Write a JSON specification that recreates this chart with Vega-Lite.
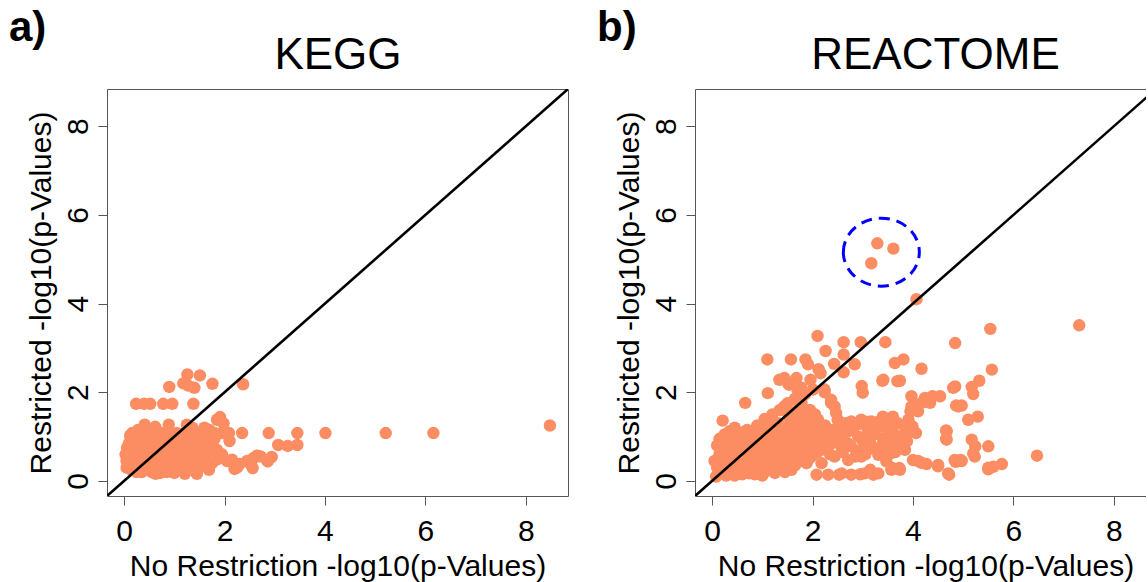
{
"$schema": "https://vega.github.io/schema/vega-lite/v6.json",
"padding": {"left": 8, "top": 6, "right": 0, "bottom": 0},
"background": "white",
"config": {
  "font": "Liberation Sans",
  "axis": {"labelFont": "Liberation Sans", "titleFont": "Liberation Sans", "labelFontSize": 30, "titleFontSize": 30, "labelColor": "#000", "titleColor": "#000", "titleFontWeight": "normal", "tickColor": "#555", "domainColor": "#555", "tickSize": 9, "tickWidth": 1, "grid": false, "labelFlush": false, "labelOverlap": false}
},
"datasets": {
  "diag": [{"x": -0.34, "y": -0.34}, {"x": 8.84, "y": 8.84}],
  "circ": [{"x": 3.37, "y": 5.16}],
  "kegg": [
{"x":1.26,"y":2.40},{"x":1.51,"y":2.38},{"x":0.90,"y":2.12},{"x":1.18,"y":2.20},{"x":1.40,"y":2.10},{"x":1.76,"y":2.19},{"x":2.37,"y":2.18},{"x":1.28,"y":2.15},
{"x":0.24,"y":1.74},{"x":0.40,"y":1.74},{"x":0.52,"y":1.74},{"x":0.78,"y":1.74},{"x":0.96,"y":1.74},{"x":1.38,"y":1.74},
{"x":1.91,"y":1.44},{"x":1.98,"y":1.30},{"x":1.85,"y":1.38},
{"x":0.41,"y":1.27},{"x":0.89,"y":1.27},{"x":1.25,"y":1.27},{"x":1.36,"y":1.20},{"x":0.62,"y":1.22},{"x":1.60,"y":1.20},{"x":1.70,"y":1.15},
{"x":0.16,"y":1.08},{"x":0.30,"y":1.08},{"x":0.45,"y":1.08},{"x":0.60,"y":1.08},{"x":0.75,"y":1.08},{"x":0.90,"y":1.08},{"x":1.05,"y":1.08},{"x":1.20,"y":1.08},{"x":1.35,"y":1.08},{"x":1.50,"y":1.08},{"x":1.65,"y":1.08},{"x":1.80,"y":1.08},{"x":1.95,"y":1.08},{"x":2.09,"y":1.08},{"x":2.35,"y":1.08},{"x":2.88,"y":1.08},{"x":3.45,"y":1.08},{"x":4.01,"y":1.08},{"x":5.21,"y":1.08},{"x":6.16,"y":1.08},
{"x":8.48,"y":1.25},
{"x":3.07,"y":0.81},{"x":3.26,"y":0.79},{"x":3.45,"y":0.81},{"x":2.94,"y":0.54},{"x":2.86,"y":0.44},{"x":2.72,"y":0.55},{"x":2.58,"y":0.52},{"x":2.65,"y":0.57},{"x":2.56,"y":0.29},{"x":2.20,"y":0.27},{"x":2.15,"y":0.48},{"x":1.87,"y":0.49},{"x":1.69,"y":0.25},{"x":1.45,"y":0.16},{"x":1.21,"y":0.16},{"x":0.63,"y":0.16},{"x":2.30,"y":0.38},{"x":2.25,"y":0.30},{"x":2.45,"y":0.45},{"x":2.52,"y":0.38},
{"x":1.32,"y":0.81},{"x":1.51,"y":0.86},{"x":1.58,"y":0.66},{"x":1.73,"y":0.74},{"x":1.83,"y":0.66},
{"x":0.05,"y":0.30},{"x":0.05,"y":0.45},{"x":0.08,"y":0.38},{"x":0.10,"y":0.55},{"x":0.12,"y":0.70},{"x":0.10,"y":0.85},{"x":0.15,"y":0.95},{"x":0.18,"y":0.40},{"x":0.20,"y":0.60},{"x":0.22,"y":0.78},{"x":0.25,"y":0.30},{"x":0.28,"y":0.50},{"x":0.30,"y":0.90},{"x":0.32,"y":0.68},{"x":0.35,"y":0.35},{"x":0.38,"y":0.55},{"x":0.40,"y":0.80},{"x":0.42,"y":0.25},{"x":0.45,"y":0.45},{"x":0.48,"y":0.65},{"x":0.50,"y":0.95},{"x":0.52,"y":0.32},{"x":0.55,"y":0.55},{"x":0.58,"y":0.75},{"x":0.60,"y":0.40},{"x":0.62,"y":0.22},{"x":0.65,"y":0.60},{"x":0.68,"y":0.88},{"x":0.70,"y":0.35},{"x":0.72,"y":0.50},{"x":0.75,"y":0.70},{"x":0.78,"y":0.28},{"x":0.80,"y":0.45},{"x":0.82,"y":0.95},{"x":0.85,"y":0.60},{"x":0.88,"y":0.38},{"x":0.90,"y":0.75},{"x":0.92,"y":0.25},{"x":0.95,"y":0.50},{"x":0.98,"y":0.85},{"x":1.00,"y":0.40},{"x":1.02,"y":0.62},{"x":1.05,"y":0.30},{"x":1.08,"y":0.55},{"x":1.10,"y":0.80},{"x":1.12,"y":0.45},{"x":1.15,"y":0.25},{"x":1.18,"y":0.65},{"x":1.20,"y":0.90},{"x":1.22,"y":0.38},{"x":1.25,"y":0.55},{"x":1.28,"y":0.75},{"x":1.30,"y":0.30},{"x":1.32,"y":0.48},{"x":1.35,"y":0.95},{"x":1.38,"y":0.62},{"x":1.40,"y":0.40},{"x":1.42,"y":0.80},{"x":1.45,"y":0.28},{"x":1.48,"y":0.55},{"x":1.50,"y":0.70},{"x":1.55,"y":0.35},{"x":1.58,"y":0.90},{"x":1.60,"y":0.50},{"x":1.65,"y":0.62},{"x":1.70,"y":0.80},{"x":1.75,"y":0.40},{"x":1.80,"y":0.95},{"x":1.85,"y":0.70},{"x":1.95,"y":0.60},{"x":2.05,"y":0.45},{"x":2.10,"y":0.90},{"x":0.15,"y":0.25},{"x":0.25,"y":0.20},{"x":0.35,"y":0.20},{"x":0.55,"y":0.20},{"x":0.72,"y":0.18},{"x":0.85,"y":0.20},{"x":1.00,"y":0.18},{"x":0.03,"y":0.60},{"x":0.06,"y":0.75},{"x":0.20,"y":1.00},{"x":0.28,"y":1.15},{"x":0.12,"y":1.02}
  ],
  "reactome": [
{"x":4.07,"y":4.10},{"x":2.10,"y":3.27},{"x":2.62,"y":3.13},{"x":2.96,"y":3.13},{"x":3.45,"y":3.13},{"x":4.84,"y":3.11},{"x":5.54,"y":3.43},{"x":7.31,"y":3.51},{"x":2.26,"y":2.93},{"x":2.62,"y":2.85},{"x":1.10,"y":2.74},{"x":1.57,"y":2.74},{"x":1.86,"y":2.74},{"x":1.91,"y":2.63},{"x":2.43,"y":2.64},{"x":2.84,"y":2.63},{"x":3.81,"y":2.74},{"x":3.64,"y":2.66},{"x":4.17,"y":2.53},{"x":2.12,"y":2.52},{"x":2.62,"y":2.45},{"x":1.44,"y":2.32},{"x":1.68,"y":2.32},{"x":1.53,"y":2.17},{"x":3.39,"y":2.26},{"x":3.74,"y":2.26},{"x":2.98,"y":2.14},{"x":3.00,"y":1.99},{"x":1.11,"y":1.98},{"x":4.84,"y":2.13},{"x":5.57,"y":2.51},{"x":5.32,"y":2.26},{"x":5.17,"y":2.12},{"x":5.20,"y":1.96},{"x":4.97,"y":1.70},{"x":5.10,"y":1.38},{"x":5.29,"y":1.45},{"x":5.17,"y":0.93},{"x":5.24,"y":0.78},{"x":5.50,"y":0.78},{"x":5.20,"y":0.62},{"x":5.23,"y":0.55},{"x":4.97,"y":0.45},{"x":6.47,"y":0.57},{"x":5.50,"y":0.26},{"x":5.60,"y":0.32},{"x":5.77,"y":0.38},{"x":0.66,"y":1.76},{"x":0.21,"y":1.36},{"x":4.72,"y":0.14},{"x":4.50,"y":0.33},{"x":4.85,"y":0.43},{"x":4.90,"y":0.45},{"x":4.10,"y":0.45},{"x":4.27,"y":0.38},{"x":4.66,"y":1.14},{"x":4.66,"y":0.95},{"x":4.86,"y":1.70},{"x":4.80,"y":2.10},
{"x":3.29,"y":5.36},{"x":3.61,"y":5.24},{"x":3.17,"y":4.91},
{"x":1.34,"y":2.28},{"x":1.51,"y":2.21},{"x":1.78,"y":2.10},{"x":2.01,"y":2.06},{"x":1.96,"y":2.28},{"x":2.16,"y":2.43},{"x":2.24,"y":2.06},{"x":2.37,"y":1.83},{"x":2.44,"y":1.68},{"x":2.47,"y":1.53},{"x":2.50,"y":1.38},
{"x":3.97,"y":1.91},{"x":4.24,"y":1.87},{"x":4.54,"y":1.91},{"x":4.34,"y":1.76},{"x":3.97,"y":1.68},{"x":4.10,"y":1.57},{"x":3.91,"y":1.38},{"x":3.84,"y":1.23},{"x":3.84,"y":1.00},{"x":3.97,"y":1.12},{"x":4.90,"y":1.68},{"x":4.67,"y":1.12},{"x":4.67,"y":0.93},{"x":5.50,"y":0.30},{"x":4.00,"y":0.47},{"x":4.17,"y":0.41},{"x":4.50,"y":0.36},{"x":4.70,"y":0.17},{"x":4.83,"y":0.47},{"x":4.95,"y":0.47},{"x":3.57,"y":0.25},{"x":3.74,"y":0.25},
{"x":2.08,"y":0.14},{"x":2.31,"y":0.14},{"x":2.58,"y":0.17},{"x":2.77,"y":0.14},{"x":3.04,"y":0.17},{"x":3.21,"y":0.14},{"x":3.31,"y":0.17},{"x":2.53,"y":0.14},{"x":2.95,"y":0.15},{"x":3.15,"y":0.25},{"x":1.58,"y":0.25},{"x":0.74,"y":0.17},
{"x":2.77,"y":1.34},{"x":2.97,"y":1.38},{"x":3.17,"y":1.34},{"x":3.40,"y":1.45},{"x":3.60,"y":1.45},{"x":3.70,"y":1.30},
{"x":3.34,"y":1.23},{"x":3.51,"y":1.08},{"x":3.21,"y":1.04},{"x":3.07,"y":0.93},{"x":2.91,"y":1.00},{"x":2.71,"y":1.12},{"x":2.61,"y":1.04},{"x":2.44,"y":1.00},
{"x":2.38,"y":0.85},{"x":2.58,"y":0.74},{"x":2.77,"y":0.78},{"x":2.97,"y":0.70},{"x":3.17,"y":0.74},{"x":3.37,"y":0.78},{"x":3.57,"y":0.70},{"x":3.70,"y":0.85},
{"x":2.44,"y":0.55},{"x":2.71,"y":0.47},{"x":2.97,"y":0.55},{"x":3.31,"y":0.59},{"x":3.57,"y":0.63},{"x":3.84,"y":0.70},{"x":3.47,"y":0.44},
{"x":1.91,"y":0.47},{"x":2.18,"y":0.40},{"x":1.78,"y":0.70},{"x":2.04,"y":0.85},{"x":2.24,"y":1.00},
{"x":1.51,"y":1.53},{"x":1.65,"y":1.38},{"x":1.78,"y":1.23},{"x":1.58,"y":1.08},{"x":1.78,"y":0.93},{"x":1.98,"y":1.08},{"x":2.04,"y":1.30},{"x":1.91,"y":1.53},{"x":2.11,"y":1.38},{"x":1.98,"y":0.78},{"x":2.18,"y":0.70},{"x":1.58,"y":0.70},{"x":1.38,"y":0.85},{"x":1.24,"y":1.00},{"x":1.31,"y":1.23},{"x":1.18,"y":1.38},{"x":1.44,"y":1.68},{"x":1.65,"y":1.83},{"x":1.78,"y":1.76},
{"x":3.95,"y":1.57},{"x":4.06,"y":1.68},{"x":4.17,"y":1.76},{"x":4.28,"y":1.83},{"x":4.39,"y":1.91},{"x":3.99,"y":1.23},{"x":3.84,"y":1.08},{"x":4.06,"y":1.08},{"x":3.88,"y":0.89},
{"x":3.41,"y":2.28},{"x":3.69,"y":2.25},{"x":2.37,"y":1.76},{"x":2.24,"y":2.00},{"x":2.95,"y":1.29},{"x":3.12,"y":1.33},{"x":3.30,"y":1.33},{"x":3.59,"y":0.29},{"x":3.73,"y":0.29},
{"x":0.08,"y":0.10},{"x":0.10,"y":0.30},{"x":0.12,"y":0.50},{"x":0.15,"y":0.62},{"x":0.18,"y":0.40},{"x":0.20,"y":0.22},{"x":0.22,"y":0.75},{"x":0.25,"y":0.55},{"x":0.28,"y":0.35},{"x":0.30,"y":0.90},{"x":0.32,"y":0.65},{"x":0.35,"y":0.45},{"x":0.38,"y":0.25},{"x":0.40,"y":1.05},{"x":0.42,"y":0.80},{"x":0.45,"y":0.55},{"x":0.48,"y":0.35},{"x":0.50,"y":0.18},{"x":0.52,"y":0.95},{"x":0.55,"y":0.70},{"x":0.58,"y":0.48},{"x":0.60,"y":0.30},{"x":0.62,"y":1.10},{"x":0.65,"y":0.85},{"x":0.68,"y":0.60},{"x":0.70,"y":0.40},{"x":0.72,"y":0.20},{"x":0.75,"y":1.00},{"x":0.78,"y":0.75},{"x":0.80,"y":0.52},{"x":0.82,"y":0.32},{"x":0.85,"y":1.15},{"x":0.88,"y":0.90},{"x":0.90,"y":0.65},{"x":0.92,"y":0.45},{"x":0.95,"y":0.25},{"x":0.98,"y":1.05},{"x":1.00,"y":0.80},{"x":1.02,"y":0.58},{"x":1.05,"y":0.38},{"x":1.08,"y":0.22},{"x":1.10,"y":1.20},{"x":1.12,"y":0.95},{"x":1.15,"y":0.70},{"x":1.18,"y":0.50},{"x":1.20,"y":0.30},{"x":1.22,"y":1.10},{"x":1.25,"y":0.85},{"x":1.28,"y":0.62},{"x":1.30,"y":0.42},{"x":1.32,"y":1.30},{"x":1.35,"y":1.00},{"x":1.38,"y":0.75},{"x":1.40,"y":0.55},{"x":1.42,"y":0.35},{"x":1.45,"y":1.20},{"x":1.48,"y":0.90},{"x":1.50,"y":0.65},{"x":1.52,"y":0.45},{"x":1.55,"y":1.40},{"x":1.58,"y":1.05},{"x":1.60,"y":0.80},{"x":1.62,"y":0.55},{"x":1.65,"y":0.35},{"x":1.68,"y":1.25},{"x":1.70,"y":0.95},{"x":1.72,"y":0.70},{"x":1.75,"y":0.50},{"x":1.78,"y":1.45},{"x":1.80,"y":1.15},{"x":1.82,"y":0.85},{"x":1.85,"y":0.60},{"x":1.88,"y":0.40},{"x":1.90,"y":1.30},{"x":1.92,"y":1.00},{"x":1.95,"y":0.75},{"x":1.98,"y":0.55},{"x":2.00,"y":1.20},{"x":2.05,"y":0.90},{"x":2.10,"y":0.65},{"x":2.15,"y":1.10},{"x":2.20,"y":0.80},{"x":2.25,"y":1.25},{"x":2.30,"y":0.95},{"x":2.35,"y":0.60},{"x":2.40,"y":1.15},{"x":2.50,"y":0.95},{"x":2.55,"y":1.20},{"x":2.60,"y":0.65},{"x":2.65,"y":1.30},{"x":2.70,"y":0.85},{"x":2.80,"y":1.15},{"x":2.85,"y":0.55},{"x":2.90,"y":1.30},{"x":3.00,"y":0.90},{"x":3.05,"y":0.60},{"x":3.10,"y":1.15},{"x":3.15,"y":0.85},{"x":3.25,"y":1.10},{"x":3.30,"y":0.70},{"x":3.40,"y":0.95},{"x":3.45,"y":0.55},{"x":3.50,"y":1.25},{"x":3.55,"y":0.85},{"x":3.60,"y":1.10},{"x":3.65,"y":0.65},{"x":3.75,"y":1.00},{"x":3.80,"y":0.80},{"x":0.15,"y":0.95},{"x":0.25,"y":1.05},{"x":0.35,"y":1.12},{"x":0.05,"y":0.45},{"x":0.28,"y":0.12},{"x":0.45,"y":0.12},{"x":0.60,"y":0.15},{"x":0.85,"y":0.15},{"x":1.00,"y":0.12},{"x":1.25,"y":0.18},{"x":1.45,"y":0.20},{"x":0.10,"y":0.80},{"x":0.55,"y":1.05},{"x":0.70,"y":1.15},{"x":0.90,"y":1.25},{"x":1.05,"y":1.40},{"x":1.20,"y":1.50},{"x":1.35,"y":1.60},{"x":1.50,"y":1.75},{"x":1.65,"y":1.85},{"x":1.75,"y":1.70},{"x":1.60,"y":1.55},{"x":0.45,"y":1.20},{"x":1.95,"y":1.60},{"x":2.05,"y":1.50},{"x":1.85,"y":1.95},{"x":1.70,"y":2.05}
  ]
},
"hconcat": [
  {
    "width": 461, "height": 407,
    "title": {"text": "a)", "anchor": "start", "frame": "group", "dx": -98, "dy": 50, "baseline": "alphabetic", "offset": 0, "fontSize": 42, "fontWeight": "bold", "font": "Liberation Sans", "color": "#000"},
    "view": {"stroke": "#555", "strokeWidth": 1},
    "layer": [
      {"data": {"name": "kegg"},
       "mark": {"type": "circle", "size": 155, "opacity": 1, "color": "#FC8D62"},
       "encoding": {
         "x": {"field": "x", "type": "quantitative", "scale": {"domain": [-0.34, 8.84], "nice": false, "zero": false},
               "axis": {"orient": "bottom", "values": [0, 2, 4, 6, 8], "domain": false, "labelBaseline": "alphabetic", "labelPadding": 35, "title": "No Restriction -log10(p-Values)", "titleBaseline": "alphabetic", "titleX": 230.5, "titleY": 79}},
         "y": {"field": "y", "type": "quantitative", "scale": {"domain": [-0.34, 8.84], "nice": false, "zero": false},
               "axis": {"values": [0, 2, 4, 6, 8], "domain": false, "labelAngle": -90, "labelAlign": "center", "labelBaseline": "alphabetic", "labelPadding": 11, "title": "Restricted -log10(p-Values)", "titleAngle": -90, "titleAlign": "center", "titleBaseline": "alphabetic", "titleX": -57, "titleY": 203.5}}
       }},
      {"data": {"name": "diag"},
       "mark": {"type": "line", "color": "#000", "strokeWidth": 2.6, "clip": true},
       "encoding": {
         "x": {"field": "x", "type": "quantitative", "scale": {"domain": [-0.34, 8.84], "nice": false, "zero": false},
               "axis": {"orient": "top", "labels": false, "ticks": false, "domain": false, "title": "KEGG", "titleFontSize": 44, "titleBaseline": "alphabetic", "titleAlign": "center", "titleX": 230.5, "titleY": -21}},
         "y": {"field": "y", "type": "quantitative", "scale": {"domain": [-0.34, 8.84], "nice": false, "zero": false}}
       }}
    ],
    "resolve": {"axis": {"x": "independent"}}
  },
  {
    "width": 451, "height": 407,
    "title": {"text": "b)", "anchor": "start", "frame": "group", "dx": -98, "dy": 50, "baseline": "alphabetic", "offset": 0, "fontSize": 42, "fontWeight": "bold", "font": "Liberation Sans", "color": "#000"},
    "view": {"stroke": null},
    "layer": [
      {"data": {"name": "reactome"},
       "mark": {"type": "circle", "size": 155, "opacity": 1, "color": "#FC8D62"},
       "encoding": {
         "x": {"field": "x", "type": "quantitative", "scale": {"domain": [-0.34, 8.64], "nice": false, "zero": false},
               "axis": {"orient": "bottom", "values": [0, 2, 4, 6, 8], "domain": true, "labelBaseline": "alphabetic", "labelPadding": 35, "title": "No Restriction -log10(p-Values)", "titleBaseline": "alphabetic", "titleX": 230.5, "titleY": 79}},
         "y": {"field": "y", "type": "quantitative", "scale": {"domain": [-0.34, 8.84], "nice": false, "zero": false},
               "axis": {"values": [0, 2, 4, 6, 8], "domain": true, "labelAngle": -90, "labelAlign": "center", "labelBaseline": "alphabetic", "labelPadding": 11, "title": "Restricted -log10(p-Values)", "titleAngle": -90, "titleAlign": "center", "titleBaseline": "alphabetic", "titleX": -57, "titleY": 203.5}}
       }},
      {"data": {"name": "diag"},
       "mark": {"type": "line", "color": "#000", "strokeWidth": 2.6, "clip": true},
       "encoding": {
         "x": {"field": "x", "type": "quantitative", "scale": {"domain": [-0.34, 8.64], "nice": false, "zero": false},
               "axis": {"orient": "top", "labels": false, "ticks": false, "domain": true, "title": "REACTOME", "titleFontSize": 44, "titleBaseline": "alphabetic", "titleAlign": "center", "titleX": 240, "titleY": -21}},
         "y": {"field": "y", "type": "quantitative", "scale": {"domain": [-0.34, 8.84], "nice": false, "zero": false}}
       }},
      {"data": {"name": "circ"},
       "mark": {"type": "point", "shape": "M -1 0 A 1 0.895 0 1 1 1 0 A 1 0.895 0 1 1 -1 0 Z", "size": 5776, "filled": false, "stroke": "#0000FF", "strokeWidth": 3, "strokeDash": [11, 7], "opacity": 1},
       "encoding": {
         "x": {"field": "x", "type": "quantitative", "scale": {"domain": [-0.34, 8.64], "nice": false, "zero": false}, "axis": null},
         "y": {"field": "y", "type": "quantitative", "scale": {"domain": [-0.34, 8.84], "nice": false, "zero": false}}
       }}
    ],
    "resolve": {"axis": {"x": "independent"}}
  }
],
"spacing": 127,
"bounds": "flush"
}
